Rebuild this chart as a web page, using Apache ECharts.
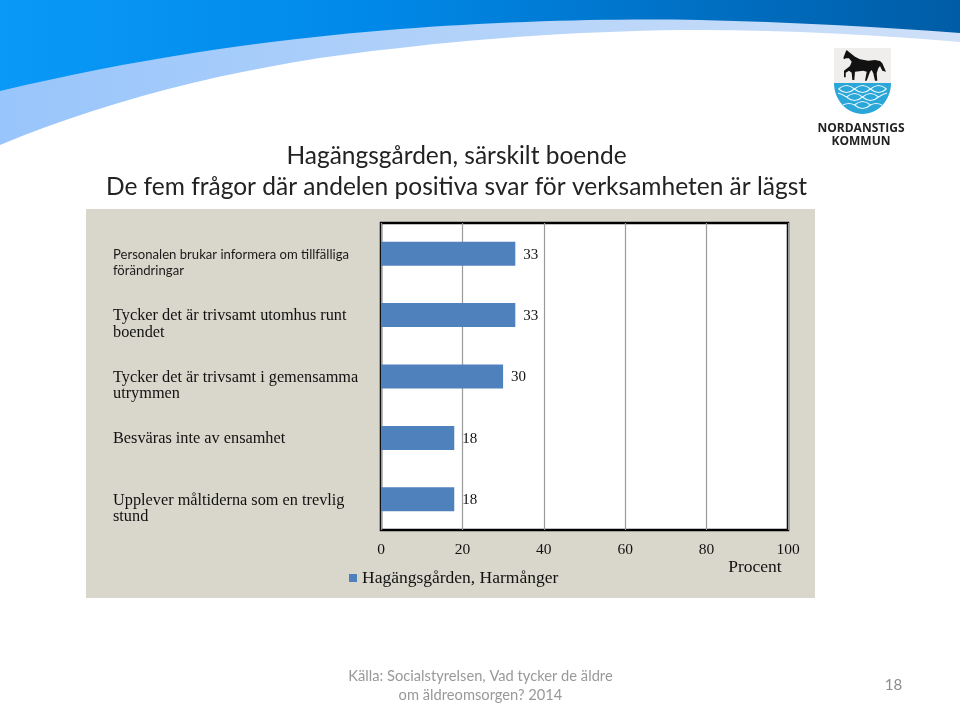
<!DOCTYPE html>
<html><head><meta charset="utf-8">
<style>html,body{margin:0;padding:0;background:#fff}#c{width:960px;height:705px}</style>
<script src="https://cdn.jsdelivr.net/npm/echarts@6/dist/echarts.min.js"></script>
</head><body><div id="c"></div>
<script>
const categories=['Personalen brukar informera om tillfälliga\nförändringar','Tycker det är trivsamt utomhus runt\nboendet','Tycker det är trivsamt i gemensamma\nutrymmen','Besväras inte av ensamhet','Upplever måltiderna som en trevlig\nstund'];
const values=[33,33,30,18,18];
const seriesName='Hagängsgården, Harmånger';
const titleLines=['Hagängsgården, särskilt boende','De fem frågor där andelen positiva svar för verksamheten är lägst'];
const sourceLines=['Källa: Socialstyrelsen, Vad tycker de äldre','om äldreomsorgen? 2014'];
const pageNumber='18';
const axisTitle='Procent';
const chart=echarts.init(document.getElementById('c'),null,{renderer:'canvas'});
const serif='"Liberation Serif"';
const reg=(n,d)=>echarts.graphic.registerShape(n,echarts.graphic.extendPath(d,{}));
reg('bandLight','M0 0H960V42C880 35 790 30 700 30C600 30 480 38 400 48C260 62 120 95 0 145Z');
reg('bandDark','M0 0H960V33C880 27 790 22 700 20C620 18 500 21 400 29C260 40 130 60 0 91Z');
reg('water','M834 83H891C891 100 878 114 862.5 114C847 114 834 100 834 83Z');
reg('horse','M843.3 58L845.7 51.7L846.7 50L849 52L855 56.7L860 59.3L868.3 60.7L875 60L880 61L882.3 63.3L886 71.7L882.3 70.7L880 66L878.3 68.3L876.7 73.3L877.3 80.7L875 80.7L873.3 73.3L871.7 70L870 71.7L866.7 80.7L865 80.7L866.7 71.7L863.3 70.7L855 71.7L854.3 80L852.3 80L851.7 72.7L849 70.7L845.7 72.7L845.7 77.3L844 77.3L844 70.7L850 66L851.7 61.7L849 58.3L845.7 58.3L844.3 59.3Z');
reg('scales','M838.5 89Q846.5 82 854.5 89T870.5 89T886.5 89M838.5 89Q846.5 96 854.5 89T870.5 89T886.5 89M846.5 97Q854.5 90 862.5 97T878.5 97M846.5 97Q854.5 104 862.5 97T878.5 97M846.5 97Q842 94 838 93M878.5 97Q883 94 887 93M854.5 105Q862.5 98 870.5 105Q862.5 112 854.5 105M854.5 105Q849 102 843 105M870.5 105Q876 102 882 105');
const txt=(x,y,t,s)=>({type:'text',x,y,silent:true,style:Object.assign({text:t,fill:'#111',font:'14px "Liberation Serif"',align:'center',verticalAlign:'middle'},s||{})});
// two-line labels start at the bar centre: a blank leading line keeps the first line level with the bar
const fmtLabel=(v,i)=>{
 const lines=v.split('\n');
 if(lines.length>1)lines.unshift(' ');
 return lines.map(l=>i===0?'{a|'+l+'}':'{b|'+l+'}').join('\n');
};
chart.setOption({
 animation:false,backgroundColor:'#fff',
 grid:{left:381,top:223,width:407,height:307,show:true,backgroundColor:'#fff',borderColor:'#000',borderWidth:2.5},
 legend:{left:349,top:569,padding:0,itemWidth:8,itemHeight:8,itemGap:3,icon:'rect',textStyle:{fontFamily:serif,fontSize:17.5,color:'#111'},data:[seriesName]},
 xAxis:{type:'value',min:0,max:100,interval:20,axisLine:{show:false},axisTick:{show:false},
  splitLine:{show:true,lineStyle:{color:'#9a9a9a',width:1.2}},
  axisLabel:{margin:12,fontFamily:serif,fontSize:15.5,color:'#111'}},
 yAxis:{type:'category',inverse:true,data:categories,axisLine:{show:false},axisTick:{show:false},
  axisLabel:{margin:268,align:'left',padding:[2,0,0,0],formatter:fmtLabel,
   rich:{a:{fontFamily:'Lato',fontSize:13.1,lineHeight:16.5,color:'#1a1a1a'},
         b:{fontFamily:serif,fontSize:16.3,lineHeight:16.5,color:'#111'}}}},
 series:[{name:seriesName,type:'bar',data:values,barWidth:24,itemStyle:{color:'#4f81bd'},
  label:{show:true,position:'right',distance:8,offset:[0,1],fontFamily:serif,fontSize:15,color:'#111'}}],
 graphic:[
  {type:'rect',z:-10,silent:true,shape:{x:86,y:209,width:729,height:389},style:{fill:'#d9d7cc'}},
  {type:'bandLight',z:-9,silent:true,style:{fill:new echarts.graphic.LinearGradient(0,0,960,0,[{offset:0,color:'#98c5fb'},{offset:1,color:'#cfe0f8'}],true)}},
  {type:'bandDark',z:-8,silent:true,style:{fill:new echarts.graphic.LinearGradient(0,0,960,0,[{offset:0,color:'#0a99f7'},{offset:.4,color:'#0088e8'},{offset:1,color:'#005ca6'}],true)}},
  txt(456.5,156.5,titleLines[0],{font:'24.5px Lato',fill:'#222'}),
  txt(456.5,187.5,titleLines[1],{font:'24.5px Lato',fill:'#222'}),
  txt(755,567,axisTitle,{font:'17.5px "Liberation Serif"'}),
  txt(480.5,676,sourceLines[0],{font:'14.7px Lato',fill:'#999'}),
  txt(480.5,695,sourceLines[1],{font:'14.7px Lato',fill:'#999'}),
  txt(893.5,685,pageNumber,{font:'15px Lato',fill:'#8c8c8c'}),
  {type:'rect',z:-7,silent:true,shape:{x:834,y:48,width:57,height:35},style:{fill:'#efeeec'}},
  {type:'water',z:-6,silent:true,style:{fill:'#2aa6d8'}},
  {type:'scales',z:-5,silent:true,style:{fill:null,stroke:'#e8f6fb',lineWidth:1.1}},
  {type:'horse',z:-5,silent:true,style:{fill:'#111'}},
  txt(861,129,'NORDANSTIGS',{font:'700 12px "Open Sans"',fill:'#222'}),
  txt(861,142,'KOMMUN',{font:'700 12px "Open Sans"',fill:'#222'})
 ]
});
</script></body></html>
